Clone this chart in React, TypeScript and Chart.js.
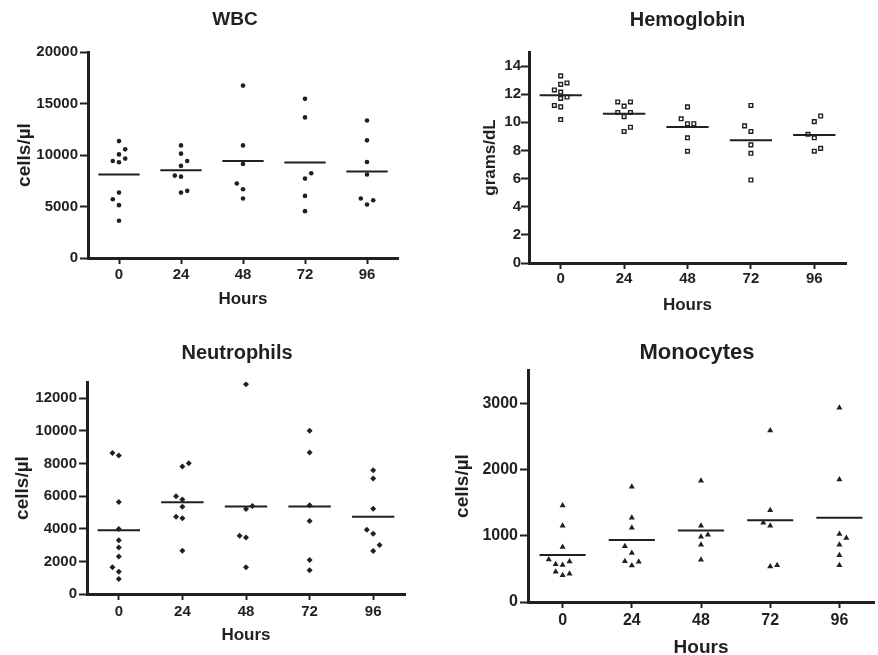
import React, { useEffect, useRef } from "react";
import { Chart, registerables } from "chart.js";

Chart.register(...registerables);

// ---------------- data ----------------
const hours = [0, 24, 48, 72, 96];

const wbcTicks = [0, 5000, 10000, 15000, 20000];
const wbcValues = [
  [11350, 10550, 10060, 9650, 9420, 9290, 6350, 5710, 5130, 3610],
  [10930, 10130, 9420, 8940, 8000, 7900, 6520, 6350],
  [16740, 10930, 9130, 7230, 6680, 5770],
  [15450, 13650, 8230, 7710, 6030, 4550],
  [13350, 11420, 9320, 8100, 5770, 5610, 5190],
];
const wbcOffsets = [
  [0, 1, 0, 1, -1, 0, 0, -1, 0, 0],
  [0, 0, 1, 0, -1, 0, 1, 0],
  [0, 0, 0, -1, 0, 0],
  [0, 0, 1, 0, 0, 0],
  [0, 0, 0, 0, -1, 1, 0],
];

const hgbTicks = [0, 2, 4, 6, 8, 10, 12, 14];
const hgbValues = [
  [13.3, 12.8, 12.7, 12.3, 12.15, 11.8, 11.7, 11.2, 11.1, 10.2],
  [11.45, 11.45, 11.15, 10.7, 10.7, 10.4, 9.65, 9.35],
  [11.1, 10.25, 9.9, 9.9, 8.9, 7.95],
  [11.2, 9.75, 9.35, 8.4, 7.8, 5.9],
  [10.45, 10.05, 9.15, 8.9, 8.15, 7.95],
];
const hgbOffsets = [
  [0, 1, 0, -1, 0, 1, 0, -1, 0, 0],
  [-1, 1, 0, -1, 1, 0, 1, 0],
  [0, -1, 0, 1, 0, 0],
  [0, -1, 0, 0, 0, 0],
  [1, 0, -1, 0, 1, 0],
];

const neuTicks = [0, 2000, 4000, 6000, 8000, 10000, 12000];
const neuValues = [
  [8640, 8490, 5640, 3980, 3300, 2850, 2300, 1640, 1370, 920],
  [8020, 7820, 5990, 5800, 5350, 4740, 4640, 2650],
  [12860, 5400, 5210, 3570, 3470, 1640],
  [10010, 8680, 5440, 4470, 2090, 1460],
  [7590, 7080, 5230, 3940, 3690, 3000, 2630],
];
const neuOffsets = [
  [-1, 0, 0, 0, 0, 0, 0, -1, 0, 0],
  [1, 0, -1, 0, 0, -1, 0, 0],
  [0, 1, 0, -1, 0, 0],
  [0, 0, 0, 0, 0, 0],
  [0, 0, 0, -1, 0, 1, 0],
];

const monoTicks = [0, 1000, 2000, 3000];
const monoValues = [
  [1455, 1150, 830, 640, 610, 570, 560, 455, 425, 405],
  [1740, 1270, 1120, 840, 740, 616, 606, 550],
  [1830, 1150, 1015, 985, 864, 636],
  [2586, 1384, 1197, 1152, 556, 535],
  [2930, 1848, 1025, 965, 864, 707, 556],
];
const monoOffsets = [
  [0, 0, 0, -2, 1, -1, 0, -1, 1, 0],
  [0, 0, 0, -1, 0, -1, 1, 0],
  [0, 0, 1, 0, 0, 0],
  [0, 0, -1, 0, 1, 0],
  [0, 0, 0, 1, 0, 0, 0],
];

// ---------------- styling / layout ----------------
const INK = "#231f20";
const FAMILY = "'Liberation Sans', Arial, Helvetica, sans-serif";
const X_MIN = -12;
const X_MAX = 108;
const JITTER = 2.4;
const MEAN_HALF = 8;

type Spec = {
  title: string;
  yTitle: string;
  values: number[][];
  offsets: number[][];
  yTicks: number[];
  yMax: number;
  marker: { style: string; radius: number; fill: string; border: number };
  x0: number; y0: number; w: number; h: number;
  l: number; r: number; t: number; b: number;
  titleCx: number; titleCy: number;
  xTickCy: number; xTitleCy: number;
  yTitleCx: number; yTickRight: number;
  fTitle: number; fTick: number; fXTitle: number; fYTitle: number;
};

const panels: Spec[] = [
  {
    title: "WBC", yTitle: "cells/µl", values: wbcValues, offsets: wbcOffsets, yTicks: wbcTicks, yMax: 20000,
    marker: { style: "circle", radius: 2.3, fill: INK, border: 0 },
    x0: 0, y0: 0, w: 439, h: 320, l: 88, r: 398, t: 52, b: 258,
    titleCx: 235, titleCy: 20, xTickCy: 275, xTitleCy: 299, yTitleCx: 25, yTickRight: 78,
    fTitle: 19, fTick: 15, fXTitle: 17, fYTitle: 19,
  },
  {
    title: "Hemoglobin", yTitle: "grams/dL", values: hgbValues, offsets: hgbOffsets, yTicks: hgbTicks, yMax: 15,
    marker: { style: "rect", radius: 2.6, fill: "#ffffff", border: 1.4 },
    x0: 439, y0: 0, w: 439, h: 320, l: 529, r: 846, t: 52, b: 263,
    titleCx: 687.5, titleCy: 20, xTickCy: 279, xTitleCy: 305, yTitleCx: 490.5, yTickRight: 521,
    fTitle: 20, fTick: 15, fXTitle: 17, fYTitle: 17,
  },
  {
    title: "Neutrophils", yTitle: "cells/µl", values: neuValues, offsets: neuOffsets, yTicks: neuTicks, yMax: 13000,
    marker: { style: "rectRot", radius: 3, fill: INK, border: 0 },
    x0: 0, y0: 320, w: 439, h: 335, l: 87, r: 405, t: 382, b: 594,
    titleCx: 237, titleCy: 353, xTickCy: 611.5, xTitleCy: 635, yTitleCx: 23, yTickRight: 77,
    fTitle: 20, fTick: 15, fXTitle: 17, fYTitle: 19,
  },
  {
    title: "Monocytes", yTitle: "cells/µl", values: monoValues, offsets: monoOffsets, yTicks: monoTicks, yMax: 3500,
    marker: { style: "triangle", radius: 3.5, fill: INK, border: 0 },
    x0: 439, y0: 320, w: 439, h: 335, l: 528, r: 877, t: 370, b: 602,
    titleCx: 697, titleCy: 353, xTickCy: 621, xTitleCy: 648, yTitleCx: 462.5, yTickRight: 518,
    fTitle: 22, fTick: 16, fXTitle: 19, fYTitle: 19,
  },
];

const lh = (size: number) => size * 1.2;
const font = (size: number) => ({ family: FAMILY, size, weight: "bold" as const, lineHeight: 1.2 });
const mean = (a: number[]) => a.reduce((s, v) => s + v, 0) / a.length;

function Panel({ s }: { s: Spec }) {
  const ref = useRef<HTMLCanvasElement | null>(null);

  useEffect(() => {
    if (!ref.current) return;
    const padR = s.x0 + s.w - s.r;
    const yWidth = s.l - s.x0;
    const xHeight = s.y0 + s.h - s.b;
    const titleTop = s.titleCy - s.y0 - lh(s.fTitle) / 2;
    const titleBottom = s.t - s.y0 - titleTop - lh(s.fTitle);
    const xTickLen = 6;
    const yTickLen = 8;
    const xTickPad = s.xTickCy - s.b - xTickLen - lh(s.fTick) / 2;
    const xTitlePad = s.y0 + s.h - s.xTitleCy - lh(s.fXTitle) / 2;
    const yTitlePad = s.yTitleCx - s.x0 - lh(s.fYTitle) / 2;
    const yTickPad = s.l - yTickLen - s.yTickRight;
    const titleCenterRel = s.titleCx - s.x0;

    const points = hours.flatMap((h, i) =>
      s.values[i].map((v, j) => ({ x: h + s.offsets[i][j] * JITTER, y: v }))
    );
    const meanSets = hours.map((h, i) => {
      const m = mean(s.values[i]);
      return {
        data: [{ x: h - MEAN_HALF, y: m }, { x: h + MEAN_HALF, y: m }],
        showLine: true,
        borderColor: INK,
        borderWidth: 2,
        pointRadius: 0,
        fill: false,
      };
    });

    // Re-centre the title block horizontally where the original figure has it.
    const titleShift = {
      id: "titleShift",
      afterLayout(chart: any) {
        const tb = chart.titleBlock;
        if (!tb) return;
        const half = Math.min(titleCenterRel, s.w - titleCenterRel);
        tb.left = titleCenterRel - half;
        tb.right = titleCenterRel + half;
        tb.width = 2 * half;
      },
    };

    const chart = new Chart(ref.current, {
      type: "scatter",
      data: {
        datasets: [
          ...meanSets,
          {
            data: points,
            pointStyle: s.marker.style as any,
            pointRadius: s.marker.radius,
            pointBackgroundColor: s.marker.fill,
            pointBorderColor: INK,
            pointBorderWidth: s.marker.border,
            showLine: false,
          },
        ] as any,
      },
      plugins: [titleShift],
      options: {
        animation: false,
        responsive: false,
        devicePixelRatio: 1,
        events: [],
        layout: { padding: { left: 0, right: padR, top: 0, bottom: 0 } },
        plugins: {
          legend: { display: false },
          tooltip: { enabled: false },
          title: {
            display: true,
            text: s.title,
            color: INK,
            font: font(s.fTitle),
            padding: { top: titleTop, bottom: titleBottom },
          },
        },
        scales: {
          x: {
            type: "linear",
            min: X_MIN,
            max: X_MAX,
            afterBuildTicks: (sc: any) => {
              sc.ticks = hours.map((v) => ({ value: v }));
            },
            afterFit: (sc: any) => {
              sc.height = xHeight;
            },
            ticks: {
              color: INK,
              font: font(s.fTick),
              padding: xTickPad,
              autoSkip: false,
              maxRotation: 0,
              callback: (v: any) => String(v),
            },
            grid: {
              display: true,
              drawOnChartArea: false,
              drawTicks: true,
              tickLength: xTickLen,
              tickWidth: 2,
              tickColor: INK,
              color: INK,
            },
            border: { display: true, color: INK, width: 3 },
            title: {
              display: true,
              text: "Hours",
              color: INK,
              font: font(s.fXTitle),
              padding: { top: 0, bottom: xTitlePad },
            },
          },
          y: {
            type: "linear",
            min: 0,
            max: s.yMax,
            afterBuildTicks: (sc: any) => {
              sc.ticks = s.yTicks.map((v) => ({ value: v }));
            },
            afterFit: (sc: any) => {
              sc.width = yWidth;
            },
            ticks: {
              color: INK,
              font: font(s.fTick),
              padding: yTickPad,
              autoSkip: false,
              callback: (v: any) => String(v),
            },
            grid: {
              display: true,
              drawOnChartArea: false,
              drawTicks: true,
              tickLength: yTickLen,
              tickWidth: 2,
              tickColor: INK,
              color: INK,
            },
            border: { display: true, color: INK, width: 3 },
            title: {
              display: true,
              text: s.yTitle,
              color: INK,
              font: font(s.fYTitle),
              padding: { top: yTitlePad, bottom: 0 },
            },
          },
        },
      } as any,
    });
    return () => chart.destroy();
  }, [s]);

  return (
    <div style={{ position: "absolute", left: s.x0, top: s.y0, width: s.w, height: s.h }}>
      <canvas ref={ref} width={s.w} height={s.h} style={{ width: s.w, height: s.h, display: "block" }} />
    </div>
  );
}

export default function App() {
  return (
    <div style={{ position: "fixed", left: 0, top: 0, width: 878, height: 655, background: "#ffffff", overflow: "hidden" }}>
      {panels.map((p) => (
        <Panel key={p.title} s={p} />
      ))}
    </div>
  );
}
